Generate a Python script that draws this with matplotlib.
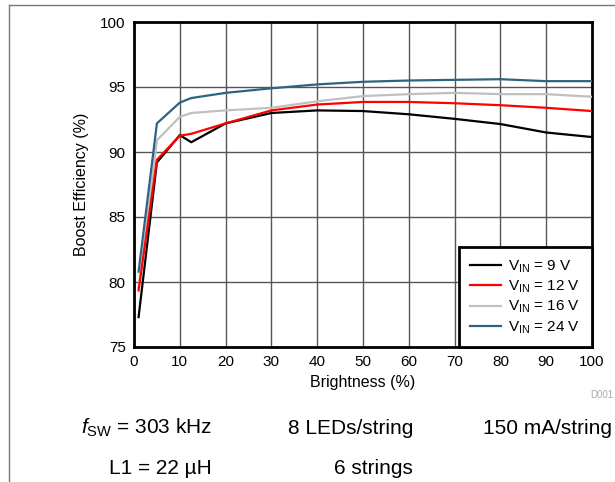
import matplotlib
matplotlib.use('Agg')
import matplotlib.pyplot as plt
from matplotlib.lines import Line2D

plt.rcParams['font.family'] = ['Liberation Sans', 'DejaVu Sans']
plt.rcParams['mathtext.fontset'] = 'custom'
plt.rcParams['mathtext.rm'] = 'Liberation Sans'
plt.rcParams['mathtext.it'] = 'Liberation Sans:italic'

# brightness steps (%)
brightness = [1, 5, 10, 12.5, 20, 30, 40, 50, 60, 70, 80, 90, 100]

# boost efficiency (%) per input voltage
eff_9v = [77.3, 89.2, 91.3, 90.75, 92.2, 93.0, 93.2, 93.15, 92.9, 92.55, 92.15, 91.5, 91.15]
eff_12v = [79.35, 89.4, 91.25, 91.4, 92.2, 93.2, 93.65, 93.85, 93.85, 93.75, 93.6, 93.4, 93.15]
eff_16v = [79.6, 90.9, 92.7, 93.0, 93.2, 93.4, 93.9, 94.3, 94.45, 94.55, 94.45, 94.45, 94.25]
eff_24v = [80.8, 92.2, 93.8, 94.15, 94.55, 94.9, 95.2, 95.4, 95.5, 95.55, 95.6, 95.45, 95.45]

labels = [r'V$_{\mathregular{IN}}$ = 9 V', r'V$_{\mathregular{IN}}$ = 12 V',
          r'V$_{\mathregular{IN}}$ = 16 V', r'V$_{\mathregular{IN}}$ = 24 V']
colors = ['black', '#ff0000', '#c0c0c0', '#2e6480']
zorders = [3, 5, 4, 6]

x_ticks = [0, 10, 20, 30, 40, 50, 60, 70, 80, 90, 100]
y_ticks = [75, 80, 85, 90, 95, 100]

fig = plt.figure(figsize=(6.15, 4.82), dpi=100)
ax = fig.add_axes([134/615, 1 - 347/482, (592 - 134)/615, (347 - 22)/482])

for ys, lab, c, z in zip([eff_9v, eff_12v, eff_16v, eff_24v], labels, colors, zorders):
    ax.plot(brightness, ys, color=c, lw=1.6, label=lab, zorder=z)

ax.set_xlim(0, 100)
ax.set_ylim(75, 100)
ax.set_xticks(x_ticks)
ax.set_yticks(y_ticks)
ax.grid(True, color='#555555', lw=1.0, zorder=1)
ax.set_axisbelow(True)
ax.tick_params(length=0, labelsize=11, pad=6)
for s in ax.spines.values():
    s.set_linewidth(2)
    s.set_color('black')

ax.set_xlabel('Brightness (%)', fontsize=11.5, labelpad=4)
ax.set_ylabel('Boost Efficiency (%)', fontsize=11.5, labelpad=8)

leg = ax.legend(loc='lower right', fontsize=11, fancybox=False, framealpha=1,
                edgecolor='black', borderaxespad=0, handlelength=2.0,
                labelspacing=0.25, borderpad=0.75, handletextpad=0.5)
leg.get_frame().set_linewidth(2)

fig.text(590/615, 1 - 395/482, 'D001', fontsize=7, color='#aaaaaa', va='center')

# conditions underneath the plot
fig.text(212/615, 1 - 428/482, r'$\mathit{f}_{\mathregular{SW}}$ = 303 kHz', fontsize=15, ha='right', va='center')
fig.text(413/615, 1 - 428/482, '8 LEDs/string', fontsize=15, ha='right', va='center')
fig.text(612/615, 1 - 428/482, '150 mA/string', fontsize=15, ha='right', va='center')
fig.text(212/615, 1 - 468/482, 'L1 = 22 \u00b5H', fontsize=15, ha='right', va='center')
fig.text(413/615, 1 - 468/482, '6 strings', fontsize=15, ha='right', va='center')

# page border
fig.add_artist(Line2D([9/615, 9/615], [0, 1 - 5/482], color='#777777', lw=1))
fig.add_artist(Line2D([9/615, 1], [1 - 5/482, 1 - 5/482], color='#777777', lw=1))

fig.savefig('out.png', dpi=100)
